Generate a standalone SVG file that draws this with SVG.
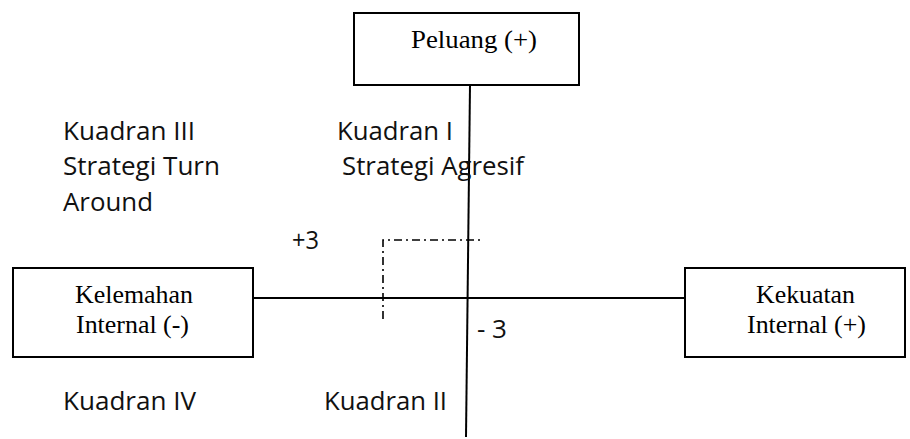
<svg xmlns="http://www.w3.org/2000/svg" width="910" height="439" viewBox="0 0 910 439">
  <style>
    .box { fill: #ffffff; stroke: #000000; stroke-width: 2; }
    .axis { stroke: #000000; stroke-width: 2; fill: none; }
    .guide { stroke: #000000; stroke-width: 1.6; fill: none; stroke-dasharray: 8 4 2 4; }
    .serif { font-family: "Liberation Serif", "Times New Roman", serif; font-size: 26px; fill: #000000; }
    .sans { font-family: "Open Sans", "Noto Sans", sans-serif; font-size: 25px; fill: #111111; }
  </style>
  <rect width="910" height="439" fill="#ffffff"/>

  <!-- axes and guide lines -->
  <g id="connectors">
    <line class="axis" x1="253" y1="298" x2="685" y2="298"/>
    <line class="axis" x1="470" y1="85" x2="466" y2="437"/>
    <polyline class="guide" points="383,319 383,240 480,240"/>
  </g>

  <!-- axis end boxes -->
  <g id="peluang">
    <rect class="box" x="354" y="13" width="225" height="72"/>
    <text class="serif" x="411" y="48" textLength="126" lengthAdjust="spacingAndGlyphs">Peluang (+)</text>
  </g>
  <g id="kelemahan">
    <rect class="box" x="13" y="268" width="240" height="89"/>
    <text class="serif" x="75" y="303" textLength="118" lengthAdjust="spacingAndGlyphs">Kelemahan</text>
    <text class="serif" x="76" y="333" textLength="113" lengthAdjust="spacingAndGlyphs">Internal (-)</text>
  </g>
  <g id="kekuatan">
    <rect class="box" x="685" y="268" width="220" height="89"/>
    <text class="serif" x="756" y="303" textLength="99" lengthAdjust="spacingAndGlyphs">Kekuatan</text>
    <text class="serif" x="747" y="333" textLength="119" lengthAdjust="spacingAndGlyphs">Internal (+)</text>
  </g>

  <!-- quadrant labels -->
  <g id="kuadran-3">
    <text class="sans" x="63" y="140" textLength="132" lengthAdjust="spacingAndGlyphs">Kuadran III</text>
    <text class="sans" x="63" y="175" textLength="157" lengthAdjust="spacingAndGlyphs">Strategi Turn</text>
    <text class="sans" x="63" y="211" textLength="90" lengthAdjust="spacingAndGlyphs">Around</text>
  </g>
  <g id="kuadran-1">
    <text class="sans" x="337" y="140" textLength="116" lengthAdjust="spacingAndGlyphs">Kuadran I</text>
    <text class="sans" x="342" y="175" textLength="182" lengthAdjust="spacingAndGlyphs">Strategi Agresif</text>
  </g>
  <g id="kuadran-4">
    <text class="sans" x="63" y="410" textLength="133" lengthAdjust="spacingAndGlyphs">Kuadran IV</text>
  </g>
  <g id="kuadran-2">
    <text class="sans" x="324" y="410" textLength="123" lengthAdjust="spacingAndGlyphs">Kuadran II</text>
  </g>

  <!-- scale marks -->
  <g id="marks">
    <text class="sans" x="292" y="249" textLength="27" lengthAdjust="spacingAndGlyphs">+3</text>
    <text class="sans" x="477" y="338" textLength="30" lengthAdjust="spacingAndGlyphs">- 3</text>
  </g>
</svg>
